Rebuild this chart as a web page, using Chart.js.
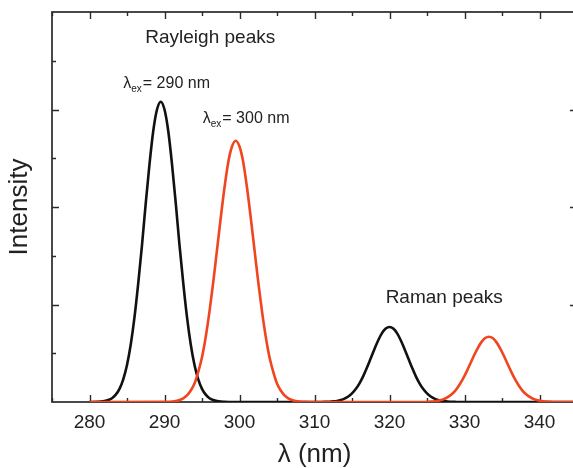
<!DOCTYPE html>
<html>
<head>
<meta charset="utf-8">
<script src="https://cdn.jsdelivr.net/npm/chart.js@4/dist/chart.umd.min.js"></script>
<style>
  html, body { margin: 0; padding: 0; background: #fff; overflow: hidden; }
  canvas { display: block; }
</style>
</head>
<body>
<canvas id="c" width="590" height="468" style="width:590px;height:468px"></canvas>
<script>
// Excitation at 290 nm (black): Rayleigh line near 289.5 nm, Raman line near 320 nm
const blackWavelengths = [
  280, 281, 281.5, 282, 282.5, 283, 283.5, 284, 284.5, 285, 285.5, 286, 286.5, 287, 287.5,
  288, 288.5, 289, 289.5, 290, 290.5, 291, 291.5, 292, 292.5, 293, 293.5, 294, 294.5,
  295, 295.5, 296, 296.5, 297, 297.5, 298, 299,
  311, 311.5, 312, 312.5, 313, 313.5, 314, 314.5, 315, 315.5, 316, 316.5, 317, 317.5,
  318, 318.5, 319, 319.5, 320, 320.5, 321, 321.5, 322, 322.5, 323, 323.5, 324, 324.5,
  325, 325.5, 326, 326.5, 327, 327.5, 328, 328.5, 329, 345
];
const blackIntensities = [
  0, 0.002, 0.004, 0.009, 0.020, 0.039, 0.075, 0.135, 0.233, 0.38, 0.59, 0.87, 1.22, 1.61, 2.04,
  2.44, 2.78, 3.00, 3.08, 3.00, 2.78, 2.44, 2.04, 1.61, 1.22, 0.87, 0.59, 0.38, 0.233,
  0.135, 0.075, 0.039, 0.020, 0.009, 0.004, 0.002, 0,
  0, 0.002, 0.003, 0.006, 0.011, 0.020, 0.034, 0.056, 0.088, 0.133, 0.192, 0.266, 0.353, 0.448,
  0.544, 0.633, 0.706, 0.753, 0.77, 0.753, 0.706, 0.633, 0.544, 0.448, 0.353, 0.266, 0.192, 0.133,
  0.088, 0.056, 0.034, 0.020, 0.011, 0.006, 0.003, 0.002, 0, 0
];

// Excitation at 300 nm (red): Rayleigh line near 299.5 nm, Raman line near 333 nm
const redWavelengths = [
  280, 290, 290.5, 291, 291.5, 292, 292.5, 293, 293.5, 294, 294.5, 295, 295.5, 296, 296.5,
  297, 297.5, 298, 298.5, 299, 299.5, 300, 300.5, 301, 301.5, 302, 302.5, 303, 303.5,
  304, 304.5, 305, 305.5, 306, 306.5, 307, 307.5, 308, 308.5, 309, 309.5,
  324.5, 325.25, 325.75, 326.25, 326.75, 327.25, 327.75, 328.25, 328.75, 329.25, 329.75,
  330.25, 330.75, 331.25, 331.75, 332.25, 332.75, 333.25, 333.75, 334.25, 334.75, 335.25,
  335.75, 336.25, 336.75, 337.25, 337.75, 338.25, 338.75, 339.25, 339.75, 340.25, 340.75,
  341.25, 342, 345
];
const redIntensities = [
  0, 0.001, 0.002, 0.005, 0.010, 0.020, 0.038, 0.068, 0.118, 0.19, 0.31, 0.46, 0.67, 0.93, 1.23,
  1.56, 1.89, 2.20, 2.46, 2.62, 2.68, 2.62, 2.46, 2.20, 1.89, 1.56, 1.23, 0.93, 0.67,
  0.46, 0.31, 0.19, 0.118, 0.068, 0.038, 0.020, 0.010, 0.005, 0.002, 0.001, 0,
  0, 0.003, 0.005, 0.010, 0.017, 0.029, 0.049, 0.077, 0.115, 0.167, 0.231,
  0.307, 0.389, 0.474, 0.551, 0.614, 0.656, 0.67, 0.656, 0.614, 0.551, 0.474,
  0.389, 0.307, 0.231, 0.167, 0.115, 0.077, 0.049, 0.029, 0.017, 0.010, 0.005,
  0.003, 0, 0
];

// Labelled wavelength ticks
const xTickValues = [280, 290, 300, 310, 320, 330, 340];

const FONT = "'Liberation Sans', Arial, Helvetica, sans-serif";
const INK = '#222222';

function toPoints(xs, ys) { return xs.map((v, i) => ({ x: v, y: ys[i] })); }

// Boxed frame with inward-pointing major and minor ticks on all four sides
const frameTicks = {
  id: 'frameTicks',
  beforeDatasetsDraw(chart) {
    const { ctx, chartArea: a, scales: { x, y } } = chart;
    ctx.save();
    ctx.strokeStyle = '#2a2a2a';
    ctx.lineWidth = 1.7;
    ctx.strokeRect(a.left, a.top, a.right - a.left, a.bottom - a.top);
    ctx.lineWidth = 1.4;
    ctx.beginPath();
    for (let v = Math.ceil(x.min / 5) * 5; v <= x.max; v += 5) {
      const px = Math.round(x.getPixelForValue(v)) + 0.5;
      const len = v % 10 === 0 ? 7 : 4;
      ctx.moveTo(px, a.bottom); ctx.lineTo(px, a.bottom - len);
      ctx.moveTo(px, a.top); ctx.lineTo(px, a.top + len);
    }
    for (let v = 0.5; v < y.max; v += 0.5) {
      const py = Math.round(y.getPixelForValue(v)) + 0.5;
      const len = Number.isInteger(v) ? 7 : 4;
      ctx.moveTo(a.left, py); ctx.lineTo(a.left + len, py);
      ctx.moveTo(a.right, py); ctx.lineTo(a.right - len, py);
    }
    ctx.stroke();
    ctx.restore();
  }
};

// Peak annotations placed in data coordinates
const peakLabels = {
  id: 'peakLabels',
  afterDatasetsDraw(chart) {
    const { ctx, scales: { x, y } } = chart;
    ctx.save();
    ctx.fillStyle = INK;
    ctx.textBaseline = 'alphabetic';

    const plain = (text, xv, yv, size, align) => {
      ctx.font = size + 'px ' + FONT;
      ctx.textAlign = align;
      ctx.fillText(text, x.getPixelForValue(xv), y.getPixelForValue(yv));
    };
    const lambdaEx = (value, xv, yv) => {
      let px = x.getPixelForValue(xv);
      const py = y.getPixelForValue(yv);
      ctx.textAlign = 'left';
      ctx.font = '16px ' + FONT;
      ctx.fillText('λ', px, py);
      px += ctx.measureText('λ').width;
      ctx.font = '10px ' + FONT;
      ctx.fillText('ex', px, py + 4);
      px += ctx.measureText('ex').width + 1;
      ctx.font = '16px ' + FONT;
      ctx.fillText('= ' + value + ' nm', px, py);
    };

    plain('Rayleigh peaks', 296.1, 3.68, 19, 'center');
    lambdaEx(290, 284.5, 3.22);
    lambdaEx(300, 295.1, 2.86);
    plain('Raman peaks', 327.3, 1.015, 19, 'center');
    ctx.restore();
  }
};

new Chart(document.getElementById('c'), {
  type: 'line',
  data: {
    datasets: [
      {
        label: 'λex = 300 nm',
        data: toPoints(redWavelengths, redIntensities),
        borderColor: '#f0451e',
        borderWidth: 2.6,
        pointRadius: 0,
        cubicInterpolationMode: 'monotone',
        fill: false
      },
      {
        label: 'λex = 290 nm',
        data: toPoints(blackWavelengths, blackIntensities),
        borderColor: '#111111',
        borderWidth: 2.6,
        pointRadius: 0,
        cubicInterpolationMode: 'monotone',
        fill: false
      }
    ]
  },
  options: {
    responsive: false,
    animation: false,
    devicePixelRatio: 1,
    layout: { padding: { top: 12, right: 13, left: 0, bottom: 0 } },
    plugins: {
      legend: { display: false },
      tooltip: { enabled: false }
    },
    scales: {
      x: {
        type: 'linear',
        min: 275,
        max: 345,
        grid: { display: false, drawTicks: false },
        border: { display: false },
        afterBuildTicks(scale) {
          scale.ticks = xTickValues.map(v => ({ value: v }));
        },
        ticks: {
          color: INK,
          padding: 9,
          maxRotation: 0,
          autoSkip: false,
          font: { family: FONT, size: 19 }
        },
        title: {
          display: true,
          text: 'λ (nm)',
          color: INK,
          font: { family: FONT, size: 26, lineHeight: 1 },
          padding: { top: 0, bottom: 0 }
        },
        afterFit(scale) { scale.height = 66; }
      },
      y: {
        min: 0,
        max: 4,
        grid: { display: false, drawTicks: false },
        border: { display: false },
        ticks: { display: false, stepSize: 1 },
        title: {
          display: true,
          text: 'Intensity',
          color: INK,
          font: { family: FONT, size: 26, lineHeight: 1 },
          padding: { top: 7, bottom: 0 }
        },
        afterFit(scale) { scale.width = 52; }
      }
    }
  },
  plugins: [frameTicks, peakLabels]
});
</script>
</body>
</html>
